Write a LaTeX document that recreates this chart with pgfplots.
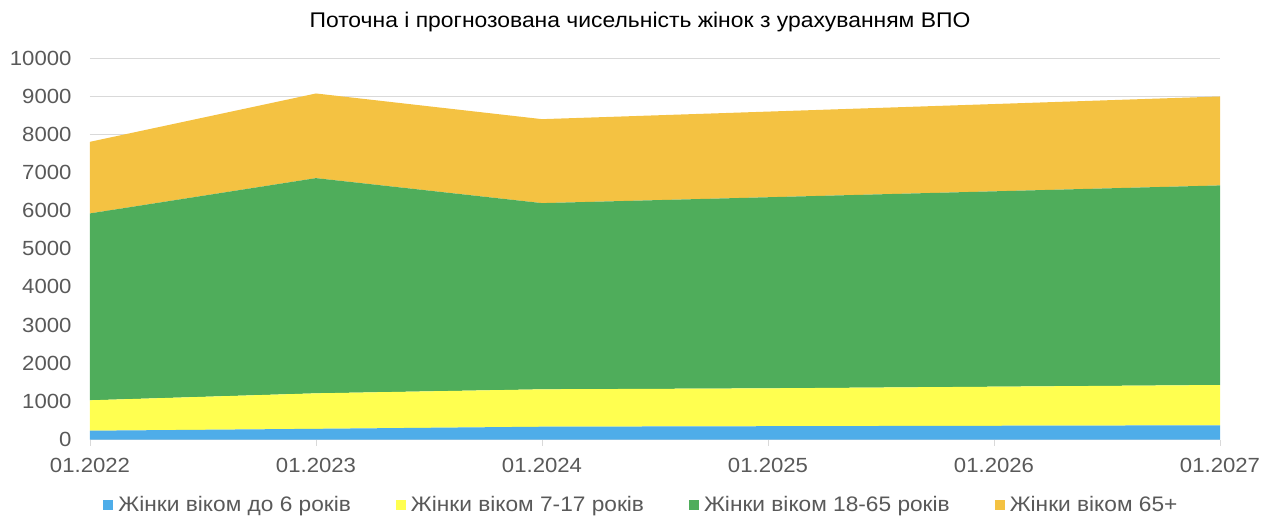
\documentclass[border=0pt]{standalone}
\usepackage{fontspec}
\setmainfont{Liberation Sans}[FakeStretch=1.08]
\usepackage{pgfplots}
\pgfplotsset{compat=1.18}
\definecolor{cblue}{HTML}{4EADE9}
\definecolor{cyellow}{HTML}{FFFF50}
\definecolor{cgreen}{HTML}{4FAD5B}
\definecolor{corange}{HTML}{F4C242}
\definecolor{gridgrey}{HTML}{D9D9D9}
\definecolor{txtgrey}{HTML}{595959}
\begin{document}
\begin{tikzpicture}
\begin{axis}[
  at={(0pt,0pt)}, anchor=origin,
  scale only axis, width=1130pt, height=381.5pt,
  xmin=0, xmax=5, ymin=0, ymax=10000,
  stack plots=y, area style, axis on top=false,
  scaled y ticks=false,
  xtick={0,1,2,3,4,5},
  xticklabels={01.2022,01.2023,01.2024,01.2025,01.2026,01.2027},
  ytick={0,1000,...,10000},
  ymajorgrids, grid style={draw=gridgrey, line width=0.9pt},
  axis x line*=bottom, axis y line*=left,
  y axis line style={draw=none},
  x axis line style={draw=gridgrey, line width=0.9pt, -},
  major y tick style={draw=none},
  major x tick style={draw=gridgrey, line width=0.9pt},
  tick align=outside, major tick length=6pt,
  xticklabel style={font=\fontsize{20.5}{24}\selectfont, text=txtgrey, yshift=-9pt},
  yticklabel style={font=\fontsize{20.5}{24}\selectfont, text=txtgrey, xshift=-9pt},
  /pgf/number format/.cd, 1000 sep={}, assume math mode=true,
  /pgfplots/.cd,
  legend columns=4,
  legend style={draw=none, at={(0.488,-0.172)}, anchor=center,
    font=\fontsize{21}{24}\selectfont, text=txtgrey,
    /tikz/every odd column/.append style={column sep=3pt},
    /tikz/every even column/.append style={column sep=43pt}},
  legend image code/.code={\fill[#1] (0pt,-5pt) rectangle (10pt,5pt);},
]
\addplot[fill=cblue, draw=none] coordinates {(0,230) (1,280) (2,335) (3,348) (4,360) (5,372)} \closedcycle;
\addlegendentry{Жінки віком до 6 років}
\addplot[fill=cyellow, draw=none] coordinates {(0,797) (1,930) (2,980) (3,993) (4,1024) (5,1056)} \closedcycle;
\addlegendentry{Жінки віком 7-17 років}
\addplot[fill=cgreen, draw=none] coordinates {(0,4899) (1,5641) (2,4881) (3,5009) (4,5121) (5,5232)} \closedcycle;
\addlegendentry{Жінки віком 18-65 років}
\addplot[fill=corange, draw=none] coordinates {(0,1877) (1,2219) (2,2201) (3,2245) (4,2288) (5,2331)} \closedcycle;
\addlegendentry{Жінки віком 65+}
\end{axis}
\node[font=\fontsize{21.2}{24}\selectfont, text=black] at (550pt,417.5pt) {Поточна і прогнозована чисельність жінок з урахуванням ВПО};
\path[use as bounding box] (-90pt,-77.5pt) rectangle (1175pt,439.5pt);
\end{tikzpicture}
\end{document}
